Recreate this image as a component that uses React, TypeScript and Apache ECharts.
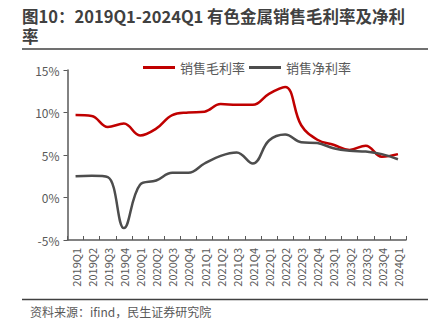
import React, { useEffect, useRef } from "react";
import * as echarts from "echarts";

const categories = [
  "2019Q1", "2019Q2", "2019Q3", "2019Q4",
  "2020Q1", "2020Q2", "2020Q3", "2020Q4",
  "2021Q1", "2021Q2", "2021Q3", "2021Q4",
  "2022Q1", "2022Q2", "2022Q3", "2022Q4",
  "2023Q1", "2023Q2", "2023Q3", "2023Q4",
  "2024Q1",
];
const grossMargin = [
  9.7, 9.6, 8.3, 8.7, 7.3, 8.1, 9.7, 10.0, 10.1, 11.0, 10.9,
  10.9, 12.2, 13.0, 8.5, 6.8, 6.2, 5.6, 6.1, 4.8, 5.1,
];
const netMargin = [
  2.5, 2.55, 2.4, -3.6, 1.5, 2.0, 2.9, 2.9, 4.0, 4.9, 5.3,
  4.0, 6.7, 7.4, 6.5, 6.4, 5.8, 5.5, 5.4, 5.1, 4.5,
];
const yTicks = [-5, 0, 5, 10, 15];

const TITLE_LINE1 = "图10：2019Q1-2024Q1 有色金属销售毛利率及净利";
const TITLE_LINE2 = "率";
const SOURCE = "资料来源：ifind，民生证券研究院";
const FONT = "'Noto Sans CJK SC', 'Noto Sans', sans-serif";

export default function App() {
  const ref = useRef<HTMLDivElement>(null);
  useEffect(() => {
    if (!ref.current) return;
    const chart = echarts.init(ref.current, null, { renderer: "svg" });
    chart.setOption({
      animation: false,
      backgroundColor: "#ffffff",
      textStyle: { fontFamily: FONT },
      legend: {
        top: 61,
        left: 143,
        padding: 0,
        itemWidth: 32,
        itemHeight: 3,
        itemGap: 4,
        icon: "rect",
        textStyle: { fontSize: 13, color: "#595959", fontFamily: FONT },
        data: ["销售毛利率", "销售净利率"],
      },
      graphic: [
        {
          type: "text",
          left: 22,
          top: 7,
          style: {
            text: TITLE_LINE1,
            fontSize: 16.5,
            lineHeight: 17,
            fontWeight: "bold",
            fill: "#404040",
            fontFamily: FONT,
          },
        },
        {
          type: "text",
          left: 22,
          top: 27,
          style: {
            text: TITLE_LINE2,
            fontSize: 16.5,
            lineHeight: 17,
            fontWeight: "bold",
            fill: "#404040",
            fontFamily: FONT,
          },
        },
        {
          type: "line",
          shape: { x1: 22, y1: 49, x2: 428, y2: 49 },
          style: { stroke: "#404040", lineWidth: 1.5 },
        },
        {
          type: "line",
          shape: { x1: 22, y1: 299.5, x2: 428, y2: 299.5 },
          style: { stroke: "#404040", lineWidth: 1.5 },
        },
        {
          type: "text",
          left: 30,
          top: 305,
          style: { text: SOURCE, fontSize: 12, fill: "#595959", fontFamily: FONT },
        },
      ],
      grid: { left: 67.5, right: 30, top: 70, bottom: 95, containLabel: false },
      xAxis: [
        {
          type: "category",
          data: categories,
          boundaryGap: true,
          position: "bottom",
          axisLine: { show: false },
          axisTick: { show: false },
          axisLabel: {
            rotate: 90,
            interval: 0,
            fontSize: 11,
            color: "#595959",
            margin: 8,
            fontFamily: FONT,
          },
        },
        {
          type: "category",
          data: categories,
          boundaryGap: true,
          position: "bottom",
          axisLine: { show: true, onZero: true, lineStyle: { color: "#595959", width: 1.5 } },
          axisTick: { show: true, inside: true, length: 4, interval: 0, lineStyle: { color: "#595959", width: 1 } },
          axisLabel: { show: false },
        },
      ],
      yAxis: {
        type: "value",
        min: -5,
        max: 15,
        interval: 5,
        axisLine: { show: true, lineStyle: { color: "#595959", width: 1.5 } },
        axisTick: { show: true, length: 4, lineStyle: { color: "#595959" } },
        splitLine: { show: false },
        axisLabel: {
          fontSize: 12,
          color: "#595959",
          margin: 8,
          fontFamily: FONT,
          formatter: (v: number) => (yTicks.includes(v) ? `${v}%` : ""),
        },
      },
      series: [
        {
          name: "销售毛利率",
          type: "line",
          xAxisIndex: 1,
          data: grossMargin,
          smooth: 0.4,
          showSymbol: false,
          lineStyle: { color: "#C00000", width: 2.5 },
          itemStyle: { color: "#C00000" },
        },
        {
          name: "销售净利率",
          type: "line",
          xAxisIndex: 1,
          data: netMargin,
          smooth: 0.4,
          showSymbol: false,
          lineStyle: { color: "#4D4D4D", width: 2.5 },
          itemStyle: { color: "#4D4D4D" },
        },
      ],
    });
    return () => chart.dispose();
  }, []);
  return <div ref={ref} style={{ width: 436, height: 335, margin: -8 }} />;
}
